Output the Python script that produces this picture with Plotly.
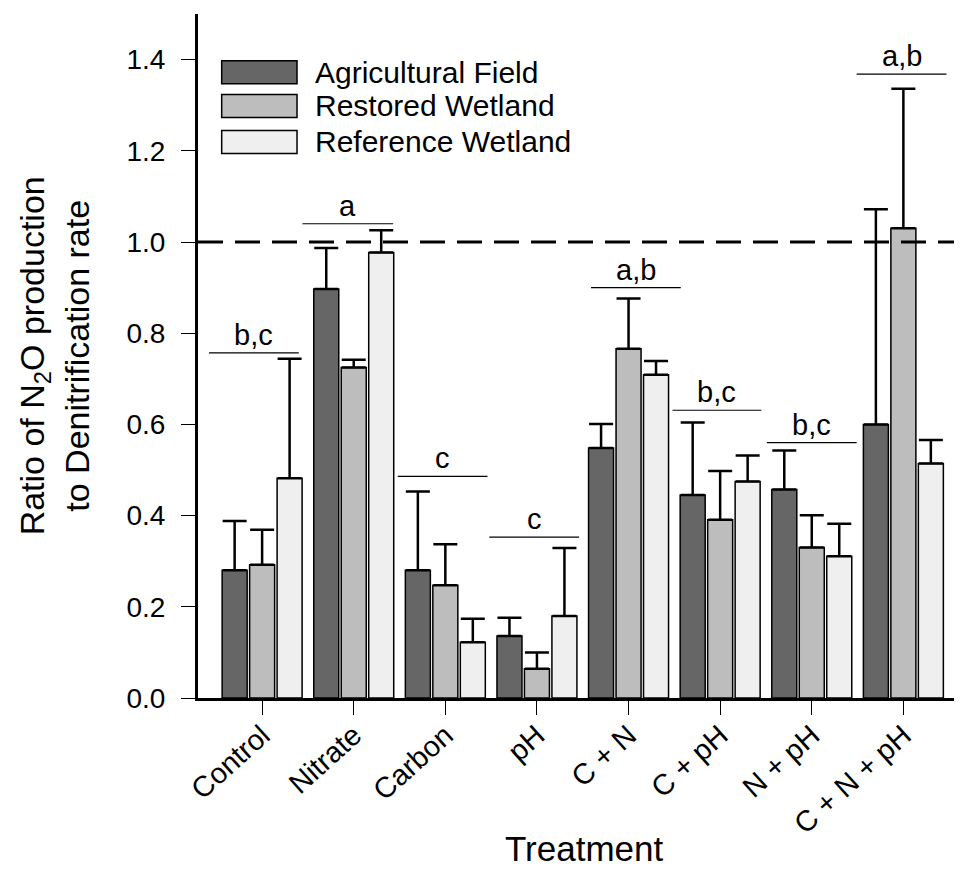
import plotly.graph_objects as go

categories = ["Control", "Nitrate", "Carbon", "pH", "C + N", "C + pH", "N + pH", "C + N + pH"]
series_names = ["Agricultural Field", "Restored Wetland", "Reference Wetland"]
series_colors = ["#666666", "#bdbdbd", "#efefef"]

agricultural = [0.280, 0.897, 0.280, 0.136, 0.548, 0.445, 0.457, 0.600]
restored = [0.292, 0.725, 0.247, 0.064, 0.766, 0.391, 0.330, 1.030]
reference = [0.482, 0.977, 0.122, 0.180, 0.709, 0.475, 0.311, 0.514]

agricultural_err = [0.108, 0.090, 0.173, 0.040, 0.053, 0.159, 0.086, 0.472]
restored_err = [0.077, 0.017, 0.090, 0.036, 0.110, 0.107, 0.071, 0.306]
reference_err = [0.262, 0.049, 0.052, 0.149, 0.030, 0.057, 0.071, 0.052]

sig_letters = ["b,c", "a", "c", "c", "a,b", "b,c", "b,c", "a,b"]
sig_levels = [0.757, 1.040, 0.486, 0.353, 0.900, 0.631, 0.560, 1.368]
sig_left = [-0.58, -0.56, -0.52, -0.52, -0.41, -0.52, -0.49, -0.51]
sig_right = [0.40, 0.43, 0.46, 0.46, 0.57, 0.45, 0.49, 0.47]

y_ticks = [0.0, 0.2, 0.4, 0.6, 0.8, 1.0, 1.2, 1.4]
ref_line = 1.0

FONT = "Arial, Liberation Sans, sans-serif"

fig = go.Figure()
values = [agricultural, restored, reference]
errs = [agricultural_err, restored_err, reference_err]
for name, col, v, e in zip(series_names, series_colors, values, errs):
    fig.add_trace(go.Bar(
        x=list(range(len(categories))), y=v, name=name,
        marker=dict(color=col, line=dict(color="black", width=1.5)),
        error_y=dict(type="data", array=e, arrayminus=[0] * len(e), symmetric=False,
                     color="black", thickness=2.5, width=12),
        showlegend=False,
    ))

shapes = []
annotations = []
# reference dashed line
shapes.append(dict(type="line", xref="paper", yref="y", x0=0, x1=1, y0=ref_line, y1=ref_line,
                   line=dict(color="black", width=3, dash="25px,12px")))
# significance lines
for i, (lab, lv, a, b) in enumerate(zip(sig_letters, sig_levels, sig_left, sig_right)):
    shapes.append(dict(type="line", xref="x", yref="y", x0=i + a, x1=i + b, y0=lv, y1=lv,
                       line=dict(color="black", width=1.2)))
    annotations.append(dict(x=i + (a + b) / 2, y=lv, xref="x", yref="y", text=lab, showarrow=False,
                            yanchor="bottom", yshift=0, font=dict(family=FONT, size=29, color="black")))

# manual legend
leg_y = [0.915, 0.8655, 0.813]
for name, col, yy in zip(series_names, series_colors, leg_y):
    shapes.append(dict(type="rect", xref="paper", yref="paper", x0=0.031, x1=0.1296,
                       y0=yy - 0.0168, y1=yy + 0.0168, fillcolor=col,
                       line=dict(color="black", width=1.5)))
    annotations.append(dict(x=0.1505, y=yy, xref="paper", yref="paper", text=name, showarrow=False,
                            xanchor="left", yanchor="middle", font=dict(family=FONT, size=30, color="black")))

# y axis title
annotations.append(dict(x=-0.188, y=0.5, xref="paper", yref="paper",
                        text="Ratio of N<sub>2</sub>O production<br>to Denitrification rate",
                        textangle=-90, showarrow=False, xanchor="center", yanchor="middle",
                        font=dict(family=FONT, size=34, color="black")))
# x axis title
annotations.append(dict(x=0.5, y=0, xref="paper", yref="paper", text="Treatment",
                        showarrow=False, xanchor="center", yanchor="middle", yshift=-150, xshift=4,
                        font=dict(family=FONT, size=35, color="black")))

fig.update_layout(
    width=954, height=861,
    margin=dict(l=190, r=0, t=6, b=171),
    paper_bgcolor="white", plot_bgcolor="white",
    barmode="group", bargap=0.1, bargroupgap=0.09,
    font=dict(family=FONT, color="black"),
    shapes=shapes, annotations=annotations,
    xaxis=dict(
        range=[-0.7, 7.64], tickvals=list(range(len(categories))), ticktext=categories,
        tickangle=-42, tickfont=dict(family=FONT, size=29), ticks="outside", ticklen=14,
        tickwidth=1, tickcolor="black", showline=True, linecolor="black", linewidth=3,
        showgrid=False, zeroline=False, ticklabelstandoff=-8,
    ),
    yaxis=dict(
        range=[0, 1.5], tickvals=y_ticks, tickformat=".1f", tickfont=dict(family=FONT, size=28),
        ticks="outside", ticklen=14, tickwidth=1, tickcolor="black", showline=True,
        linecolor="black", linewidth=3, showgrid=False, zeroline=False, ticklabelstandoff=10,
    ),
)

fig.write_html("out.html")
